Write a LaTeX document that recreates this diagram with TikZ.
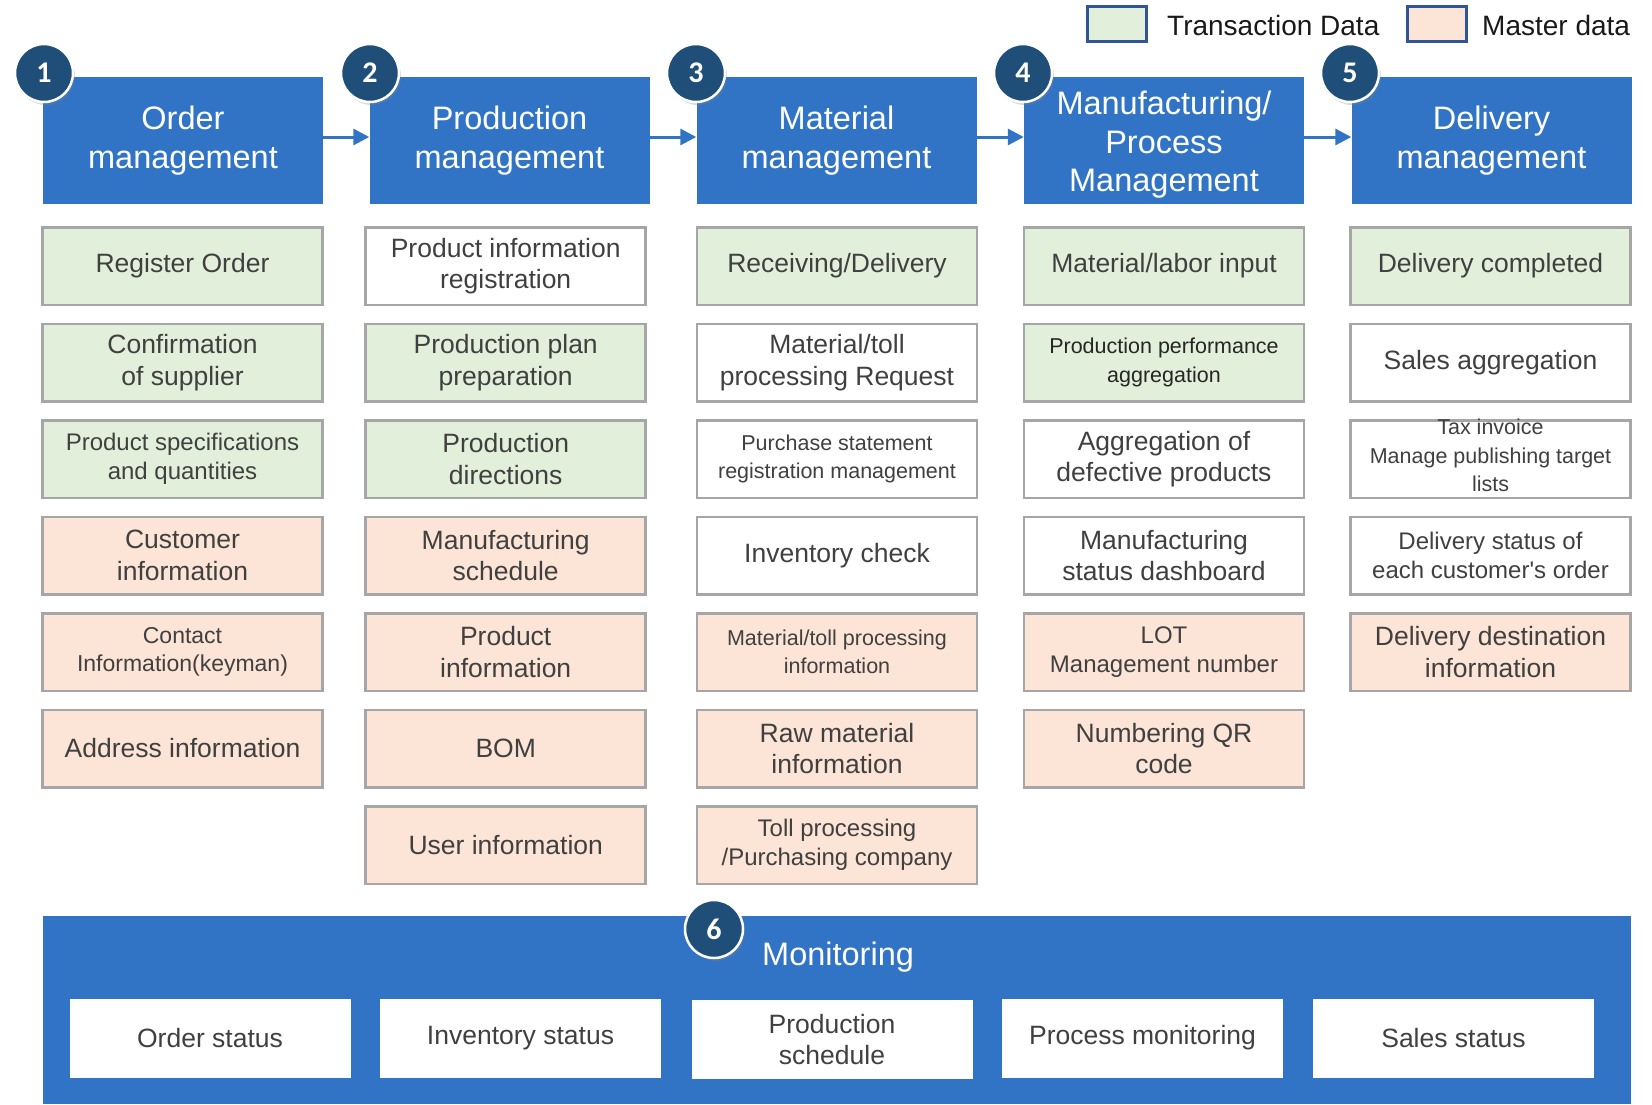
\documentclass[tikz,border=0pt]{standalone}
\usepackage{fontspec}
\setmainfont{Liberation Sans}
\newfontfamily\rawfont{Liberation Sans}[Ligatures=TeXOff]
\newfontfamily\numfont{Carlito}
\usetikzlibrary{shadows,arrows.meta}
\definecolor{hdr}{HTML}{3174C5}
\definecolor{navy}{HTML}{1F4E79}
\definecolor{txgreen}{HTML}{E2EFDA}
\definecolor{mspeach}{HTML}{FCE4D6}
\definecolor{boxgray}{HTML}{A6A6A6}
\definecolor{txtgray}{HTML}{404040}
\definecolor{legblue}{HTML}{2F5597}
\begin{document}
\begin{tikzpicture}[x=1pt,y=-1pt,
  hdrbox/.style={fill=hdr, text=white, minimum width=280pt, minimum height=127pt, inner sep=0pt, align=center, font=\fontsize{32.5}{38.5}\selectfont},
  sub/.style={draw=boxgray, line width=2.5pt, minimum width=280pt, minimum height=77.5pt, inner sep=0pt, align=center, text=txtgray, font=\fontsize{26.5}{31.5}\selectfont},
  tx/.style={sub, fill=txgreen},
  ms/.style={sub, fill=mspeach},
  wt/.style={sub, fill=white},
  small/.style={font=\fontsize{21.5}{28.5}\selectfont},
  mid/.style={font=\fontsize{24}{29.5}\selectfont},
  midb/.style={font=\fontsize{23}{28.5}\selectfont},
  badge/.style={circle, fill=navy, draw=white, line width=2.5pt, minimum size=58pt, inner sep=0pt, text=white, font=\numfont\bfseries\fontsize{30}{30}\selectfont, drop shadow={opacity=0.3, shadow xshift=2pt, shadow yshift=-3pt}},
  flow/.style={draw=hdr, line width=3pt, -{Triangle[length=16pt,width=16pt]}},
  mon/.style={fill=white, minimum width=281pt, minimum height=79pt, inner sep=0pt, align=center, text=txtgray, font=\fontsize{26.5}{31.5}\selectfont},
  leg/.style={draw=legblue, line width=3pt, minimum width=59pt, minimum height=35pt, inner sep=0pt},
  legtext/.style={anchor=base west, inner sep=0pt, text=black!90, font=\fontsize{28}{28}\selectfont}
]
\useasboundingbox (0,0) rectangle (1652,1104);

% legend
\node[leg, fill=txgreen] (legtx) at (1117,24) {};
\node[legtext] (legtxt) at (1167,35) {Transaction Data};
\node[leg, fill=mspeach] (legms) at (1436.5,24) {};
\node[legtext] (legmst) at (1482,35) {Master data};

% headers
\node[hdrbox] (h1) at (183,140.5) {Order\\management};
\node[hdrbox] (h2) at (509.5,140.5) {Production\\management};
\node[hdrbox] (h3) at (836.5,140.5) {Material\\management};
\node[hdrbox] (h4) at (1164,140.5) {};
\node[text=white, align=center, inner sep=0pt, font=\fontsize{32.5}{38.5}\selectfont] (h4t) at (1164,145) {Manufacturing/\\Process\\Management};
\node[hdrbox] (h5) at (1491.5,140.5) {Delivery\\management};

\draw[flow] ([yshift=3.5pt]h1.east) -- ([yshift=3.5pt]h2.west);
\draw[flow] ([yshift=3.5pt]h2.east) -- ([yshift=3.5pt]h3.west);
\draw[flow] ([yshift=3.5pt]h3.east) -- ([yshift=3.5pt]h4.west);
\draw[flow] ([yshift=3.5pt]h4.east) -- ([yshift=3.5pt]h5.west);

% column 1
\node[tx] (a1) at (182.5,266) {Register Order};
\node[tx] (a2) at (182.5,362.5) {Confirmation\\of supplier};
\node[tx, mid] (a3) at (182.5,459) {Product specifications\\and quantities};
\node[ms] (a4) at (182.5,555.5) {Customer\\information};
\node[ms, midb] (a5) at (182.5,652) {Contact\\Information(keyman)};
\node[ms] (a6) at (182.5,748.5) {Address information};

% column 2
\node[wt] (b1) at (505.7,266) {Product information\\registration};
\node[tx] (b2) at (505.7,362.5) {Production plan\\preparation};
\node[tx] (b3) at (505.7,459) {Production\\directions};
\node[ms] (b4) at (505.7,555.5) {Manufacturing\\schedule};
\node[ms] (b5) at (505.7,652) {Product\\information};
\node[ms] (b6) at (505.7,748.5) {BOM};
\node[ms] (b7) at (505.7,845) {User information};

% column 3
\node[tx] (c1) at (837,266) {Receiving/Delivery};
\node[wt] (c2) at (837,362.5) {Material/toll\\processing Request};
\node[wt, small] (c3) at (837,459) {Purchase statement\\registration management};
\node[wt] (c4) at (837,555.5) {Inventory check};
\node[ms, small] (c5) at (837,652) {Material/toll processing\\information};
\node[ms] (c6) at (837,748.5) {Raw material\\information};
\node[ms, mid] (c7) at (837,845) {Toll processing\\/Purchasing company};

% column 4
\node[tx] (d1) at (1164,266) {Material/labor input};
\node[tx, small, text=black!85] (d2) at (1164,362.5) {Production performance\\aggregation};
\node[wt] (d3) at (1164,459) {Aggregation of\\defective products};
\node[wt] (d4) at (1164,555.5) {Manufacturing\\status dashboard};
\node[ms, mid] (d5) at (1164,652) {LOT\\Management number};
\node[ms] (d6) at (1164,748.5) {Numbering QR\\code};

% column 5
\node[tx] (e1) at (1490.5,266) {Delivery completed};
\node[wt] (e2) at (1490.5,362.5) {Sales aggregation};
\node[wt] (e3) at (1490.5,459) {};
\node[small, align=center, text=txtgray, inner sep=0pt] (e3t) at (1490.5,455.5) {Tax invoice\\Manage publishing target\\lists};
\node[wt, mid] (e4) at (1490.5,555.5) {Delivery status of\\each customer{\rawfont'}s order};
\node[ms] (e5) at (1490.5,652) {Delivery destination\\information};

% monitoring panel
\node[fill=hdr, minimum width=1588pt, minimum height=188pt, inner sep=0pt, anchor=north west] (panel) at (43,916) {};
\node[anchor=west, inner sep=0pt, text=white, font=\fontsize{32.5}{38}\selectfont] (montitle) at (762,957) {Monitoring};
\node[mon] (m1) at (210,1038) {Order status};
\node[mon] (m2) at (520.5,1038) {Inventory status};
\node[mon] (m3) at (832,1039.5) {Production\\schedule};
\node[mon] (m4) at (1142.5,1038) {Process monitoring};
\node[mon] (m5) at (1453.5,1038) {Sales status};

% badges
\node[badge] (n1) at (44,73) {1};
\node[badge] (n2) at (370,73) {2};
\node[badge] (n3) at (696,73) {3};
\node[badge] (n4) at (1023,73) {4};
\node[badge] (n5) at (1350,73) {5};
\node[badge] (n6) at (714,929) {6};
\end{tikzpicture}
\end{document}
